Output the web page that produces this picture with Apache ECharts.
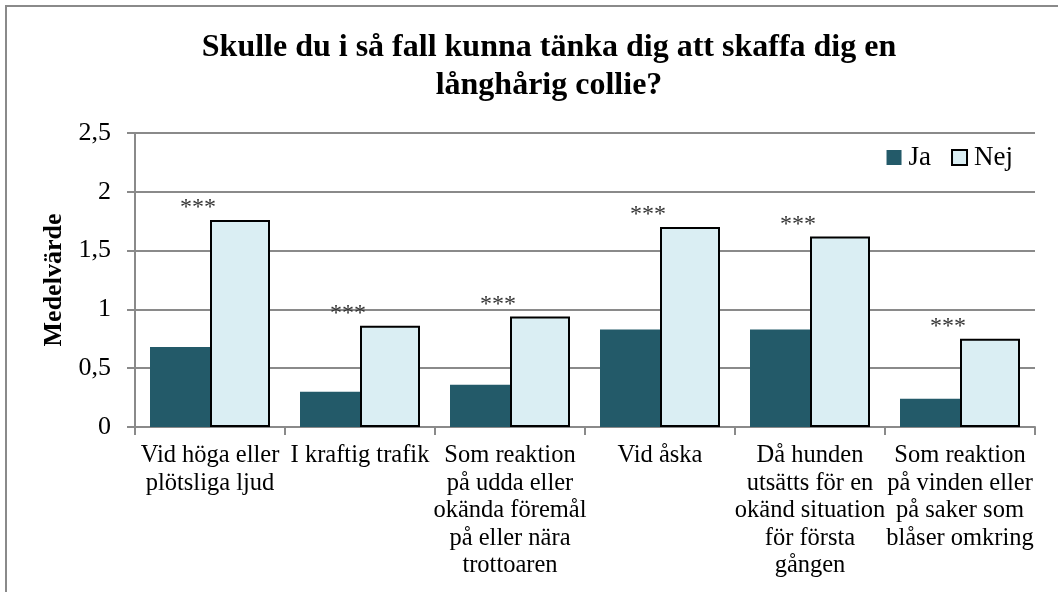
<!DOCTYPE html>
<html lang="sv">
<head>
    <meta charset="utf-8">
    <title>Långhårig collie</title>
    <style type="text/css">
        html, body { margin: 0; padding: 0; background: #fff; }
        #page { width: 1058px; height: 592px; }
    </style>
</head>
<body>
<div id="page"></div>
<script src="https://cdn.jsdelivr.net/npm/echarts@6/dist/echarts.min.js"></script>
<script>
    var categories = [
        'Vid höga eller\nplötsliga ljud',
        'I kraftig trafik',
        'Som reaktion\npå udda eller\nokända föremål\npå eller nära\ntrottoaren',
        'Vid åska',
        'Då hunden\nutsätts för en\nokänd situation\nför första\ngången',
        'Som reaktion\npå vinden eller\npå saker som\nblåser omkring'
    ];
    var jaValues = [0.68, 0.30, 0.36, 0.83, 0.83, 0.24];
    var nejValues = [1.76, 0.86, 0.94, 1.70, 1.62, 0.75];
    // signifikansmarkering över varje par
    var significance = ['***', '***', '***', '***', '***', '***'];

    (function () {
        var serif = "'Liberation Serif', 'Times New Roman', serif";
        var gridGray = '#8a8a8a';
        var chart = echarts.init(document.getElementById('page'));

        var option = {
            backgroundColor: '#fff',
            animation: false,
            textStyle: { fontFamily: serif },
            graphic: [{
                type: 'rect',
                shape: { x: 6, y: 6, width: 1100, height: 700 },
                style: { fill: 'none', stroke: gridGray, lineWidth: 2 },
                silent: true
            }],
            title: {
                text: 'Skulle du i så fall kunna tänka dig att skaffa dig en\nlånghårig collie?',
                left: 544,
                top: 24,
                textAlign: 'center',
                textStyle: {
                    fontFamily: serif,
                    fontWeight: 'bold',
                    fontSize: 32,
                    lineHeight: 38,
                    color: '#000'
                }
            },
            legend: {
                right: 40,
                top: 139,
                icon: 'rect',
                itemWidth: 15,
                itemHeight: 15,
                itemGap: 20,
                textStyle: { fontFamily: serif, fontSize: 27, color: '#000', padding: [0, 0, 0, 2] },
                data: ['Ja', 'Nej']
            },
            grid: { left: 135, right: 23, top: 133, bottom: 165 },
            xAxis: {
                type: 'category',
                data: categories,
                axisLine: { lineStyle: { color: gridGray, width: 2 } },
                axisTick: { show: true, length: 8, lineStyle: { color: gridGray, width: 2 } },
                axisLabel: {
                    interval: 0,
                    margin: 15,
                    color: '#000',
                    fontFamily: serif,
                    fontSize: 24.5,
                    lineHeight: 27.5
                }
            },
            yAxis: {
                type: 'value',
                min: 0,
                max: 2.5,
                interval: 0.5,
                name: 'Medelvärde',
                nameLocation: 'middle',
                nameGap: 66,
                nameTextStyle: { fontFamily: serif, fontWeight: 'bold', fontSize: 26, color: '#000' },
                axisLine: { show: true, lineStyle: { color: gridGray, width: 2 } },
                axisTick: { show: true, length: 8, lineStyle: { color: gridGray, width: 2 } },
                splitLine: { lineStyle: { color: gridGray, width: 2 } },
                axisLabel: {
                    margin: 24,
                    color: '#000',
                    fontFamily: serif,
                    fontSize: 26,
                    formatter: function (v) {
                        return String(v).replace('.', ',');
                    }
                }
            },
            series: [
                {
                    name: 'Ja',
                    type: 'bar',
                    data: jaValues,
                    barGap: '0%',
                    barCategoryGap: '20%',
                    itemStyle: { color: '#235a69' }
                },
                {
                    name: 'Nej',
                    type: 'bar',
                    data: nejValues,
                    barGap: '0%',
                    barCategoryGap: '20%',
                    itemStyle: { color: '#daeef3', borderColor: '#000', borderWidth: 2 },
                    label: {
                        show: true,
                        position: 'top',
                        offset: [-42, 5],
                        fontFamily: serif,
                        fontSize: 24,
                        color: '#333',
                        formatter: function (p) {
                            return significance[p.dataIndex];
                        }
                    }
                }
            ]
        };
        chart.setOption(option);
    })();
</script>
</body>
</html>
